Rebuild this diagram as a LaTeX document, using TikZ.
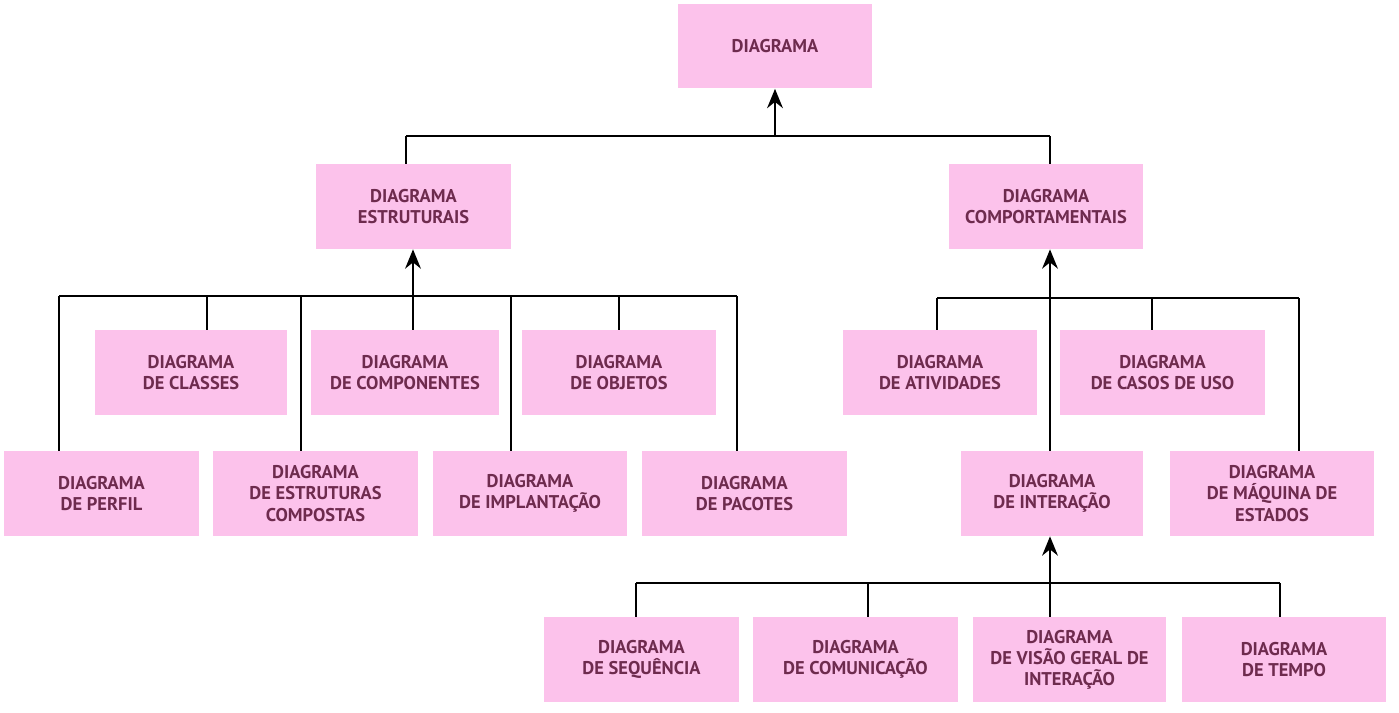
\documentclass[tikz,border=0pt]{standalone}
\usepackage{fontspec}
\setmainfont{PT Sans}
\usetikzlibrary{arrows.meta}
\definecolor{rosa}{HTML}{FCC2EB}
\definecolor{vinho}{HTML}{6E2B4E}

\begin{document}
\begin{tikzpicture}[x=0.02cm, y=-0.02cm,
        caixa/.style={fill=rosa, minimum height=1.7cm, inner sep=2pt, align=center,
                      text=vinho, font=\fontsize{10.5}{12}\selectfont\bfseries},
        liga/.style={line width=1.15pt},
        seta/.style={line width=1.15pt, -{Stealth[length=11pt, width=9pt]}}]
        \useasboundingbox (0,0) rectangle (1399,713);

        % Caixas
        \node[caixa, minimum width=3.88cm] (dg)  at (775,46)    {DIAGRAMA};
        \node[caixa, minimum width=3.9cm]  (est) at (413.5,206.5) {DIAGRAMA\\ESTRUTURAIS};
        \node[caixa, minimum width=3.88cm] (cpt) at (1046,206.5) {DIAGRAMA\\COMPORTAMENTAIS};

        \node[caixa, minimum width=3.84cm] (cla) at (191,372.5)  {DIAGRAMA\\DE CLASSES};
        \node[caixa, minimum width=3.76cm] (cmp) at (405,372.5)  {DIAGRAMA\\DE COMPONENTES};
        \node[caixa, minimum width=3.88cm] (obj) at (619,372.5)  {DIAGRAMA\\DE OBJETOS};
        \node[caixa, minimum width=3.88cm] (ati) at (940,372.5)  {DIAGRAMA\\DE ATIVIDADES};
        \node[caixa, minimum width=4.1cm]  (cas) at (1162.5,372.5) {DIAGRAMA\\DE CASOS DE USO};

        \node[caixa, minimum width=3.9cm]  (per) at (101.5,493.5) {DIAGRAMA\\DE PERFIL};
        \node[caixa, minimum width=4.1cm]  (ecp) at (315.5,493.5) {DIAGRAMA\\DE ESTRUTURAS\\COMPOSTAS};
        \node[caixa, minimum width=3.88cm] (imp) at (530,493.5)  {DIAGRAMA\\DE IMPLANTAÇÃO};
        \node[caixa, minimum width=4.1cm]  (pac) at (744.5,493.5) {DIAGRAMA\\DE PACOTES};
        \node[caixa, minimum width=3.64cm] (int) at (1052,493.5) {DIAGRAMA\\DE INTERAÇÃO};
        \node[caixa, minimum width=4.08cm] (maq) at (1272,493.5) {DIAGRAMA\\DE MÁQUINA DE\\ESTADOS};

        \node[caixa, minimum width=3.9cm]  (seq) at (641.5,659.5) {DIAGRAMA\\DE SEQUÊNCIA};
        \node[caixa, minimum width=4.1cm]  (cmn) at (855.5,659.5) {DIAGRAMA\\DE COMUNICAÇÃO};
        \node[caixa, minimum width=3.86cm] (vis) at (1069.5,659.5) {DIAGRAMA\\DE VISÃO GERAL DE\\INTERAÇÃO};
        \node[caixa, minimum width=4.08cm] (tem) at (1284,659.5) {DIAGRAMA\\DE TEMPO};

        % Barramentos
        \coordinate (b0) at (775,136);
        \coordinate (b1) at (413,296);
        \coordinate (b2) at (1050,298);
        \coordinate (b3) at (1050,583);
        \draw[liga] (406,136) -- (1050,136);
        \draw[liga] (59,296) -- (737,296);
        \draw[liga] (937,298) -- (1299,298);
        \draw[liga] (636,583) -- (1280,583);

        % Ligações
        \foreach \x/\n in {406/est, 1050/cpt} {
            \path (\x,136) coordinate (t);
            \draw[liga] (t) -- (t |- \n.north);
        }
        \foreach \x/\n in {59/per, 207/cla, 301/ecp, 413/cmp, 511/imp, 619/obj, 737/pac} {
            \path (\x,296) coordinate (t);
            \draw[liga] (t) -- (t |- \n.north);
        }
        \foreach \x/\n in {937/ati, 1152/cas, 1299/maq} {
            \path (\x,298) coordinate (t);
            \draw[liga] (t) -- (t |- \n.north);
        }
        \foreach \x/\n in {636/seq, 868/cmn, 1050/vis, 1280/tem} {
            \path (\x,583) coordinate (t);
            \draw[liga] (t) -- (t |- \n.north);
        }

        % Setas
        \draw[seta] (b0) -- (b0 |- dg.south);
        \draw[seta] (b1) -- (b1 |- est.south);
        \draw[seta] (b2 |- int.north) -- (b2 |- cpt.south);
        \draw[seta] (b3) -- (b3 |- int.south);
\end{tikzpicture}
\end{document}
